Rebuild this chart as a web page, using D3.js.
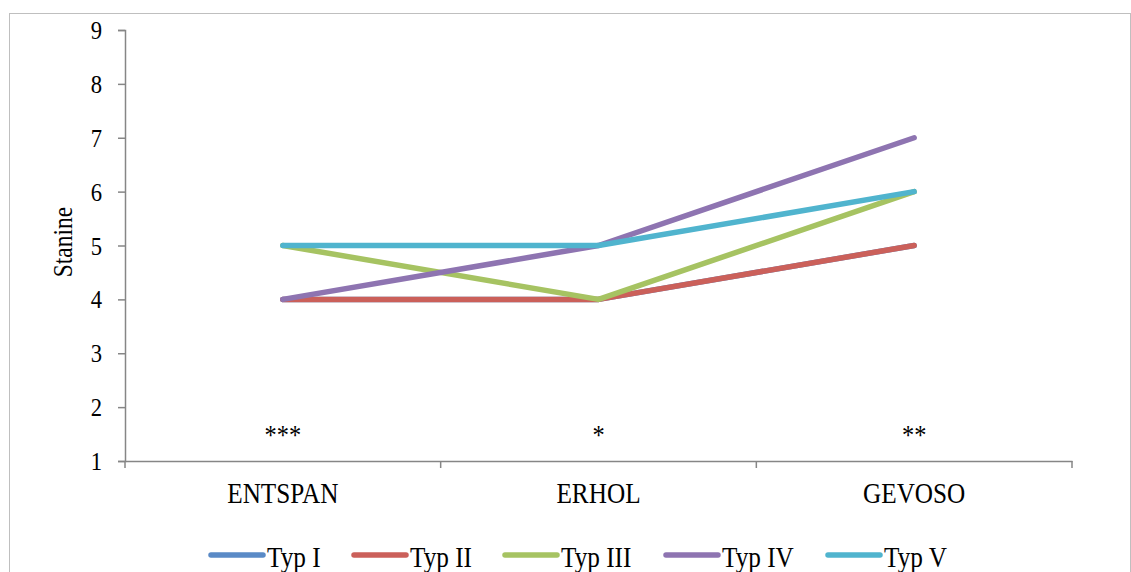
<!DOCTYPE html>
<html><head><meta charset="utf-8">
<script src="https://cdn.jsdelivr.net/npm/d3@7"></script>
<style>body{margin:0;background:#fff;}svg{display:block;}text{font-family:"Liberation Serif","Times New Roman",serif;fill:#000;}</style>
</head><body><svg id="c" width="1131" height="572"></svg>
<script>
const categories = ["ENTSPAN","ERHOL","GEVOSO"];
const significance = ["***","*","**"];
const seriesNames = ["Typ I","Typ II","Typ III","Typ IV","Typ V"];
const typI = [4,4,5];
const typII = [4,4,5];
const typIII = [5,4,6];
const typIV = [4,5,7];
const typV = [5,5,6];
const yTicks = [1,2,3,4,5,6,7,8,9];
const colors = ["#5A8AC6","#CB605A","#A6C362","#8E74B1","#50B4CE"];
const allSeries = [typI,typII,typIII,typIV,typV];
const SX = 0.87;

function squeeze(sel){
  sel.each(function(){
    const t = d3.select(this);
    const tx = +t.attr("x")||0, ty = +t.attr("y")||0;
    const prev = t.attr("transform")||"";
    t.attr("x",0).attr("y",0).attr("transform",prev+` translate(${tx},${ty}) scale(${SX},1)`);
  });
}

const svg = d3.select("#c");
svg.append("rect").attr("x",9.5).attr("y",13.5).attr("width",1121).attr("height",600)
  .attr("fill","none").attr("stroke","#bfbfbf").attr("stroke-width",1);

const x = d3.scaleBand().domain(categories).range([125,1072]).padding(0);
const y = d3.scaleLinear().domain([1,9]).range([461,30]);

const ya = svg.append("g").attr("transform","translate(125,0)")
  .call(d3.axisLeft(y).tickValues(yTicks).tickSize(7).tickPadding(16).tickFormat(d3.format("d")));
ya.attr("font-family",null).attr("font-size",null);
ya.select(".domain").attr("stroke","#868686").attr("stroke-width",1.5);
ya.selectAll(".tick line").attr("stroke","#868686").attr("stroke-width",1.5);
ya.selectAll(".tick text").style("font-size","26px").attr("dy","0.33em").call(squeeze);

const xa = svg.append("g").attr("transform","translate(0,461)")
  .call(d3.axisBottom(x).tickSize(0).tickSizeOuter(0));
xa.attr("font-family",null).attr("font-size",null);
xa.select(".domain").attr("stroke","#868686").attr("stroke-width",1.5);
xa.selectAll(".tick text").style("font-size","29px").attr("y",42).attr("dy",null).call(squeeze);
const bounds = [125].concat(categories.map(c=>x(c)+x.bandwidth()));
xa.selectAll(".xt").data(bounds).enter().append("line")
  .attr("x1",d=>d).attr("x2",d=>d).attr("y1",0).attr("y2",7)
  .attr("stroke","#868686").attr("stroke-width",1.5);

svg.append("text").attr("transform","translate(72,242) rotate(-90)")
  .attr("text-anchor","middle").style("font-size","27px").text("Stanine").call(squeeze);

const line = d3.line().x((d,i)=>x(categories[i])+x.bandwidth()/2).y(d=>y(d));
allSeries.forEach((s,i)=>{
  svg.append("path").datum(s).attr("d",line).attr("fill","none")
    .attr("stroke",colors[i]).attr("stroke-width",5.5).attr("stroke-linecap","round").attr("stroke-linejoin","round");
});

svg.selectAll(".sig").data(significance).enter().append("text")
  .attr("x",(d,i)=>x(categories[i])+x.bandwidth()/2).attr("y",444)
  .attr("text-anchor","middle").style("font-size","28px").text(d=>d).call(squeeze);

const legendX = [209,352,503,664,826];
const lg = svg.append("g");
seriesNames.forEach((n,i)=>{
  lg.append("line").attr("x1",legendX[i]+2).attr("x2",legendX[i]+54).attr("y1",555).attr("y2",555)
    .attr("stroke",colors[i]).attr("stroke-width",5.5).attr("stroke-linecap","round");
  lg.append("text").attr("x",legendX[i]+58).attr("y",567).style("font-size","29px").text(n).call(squeeze);
});
</script></body></html>
